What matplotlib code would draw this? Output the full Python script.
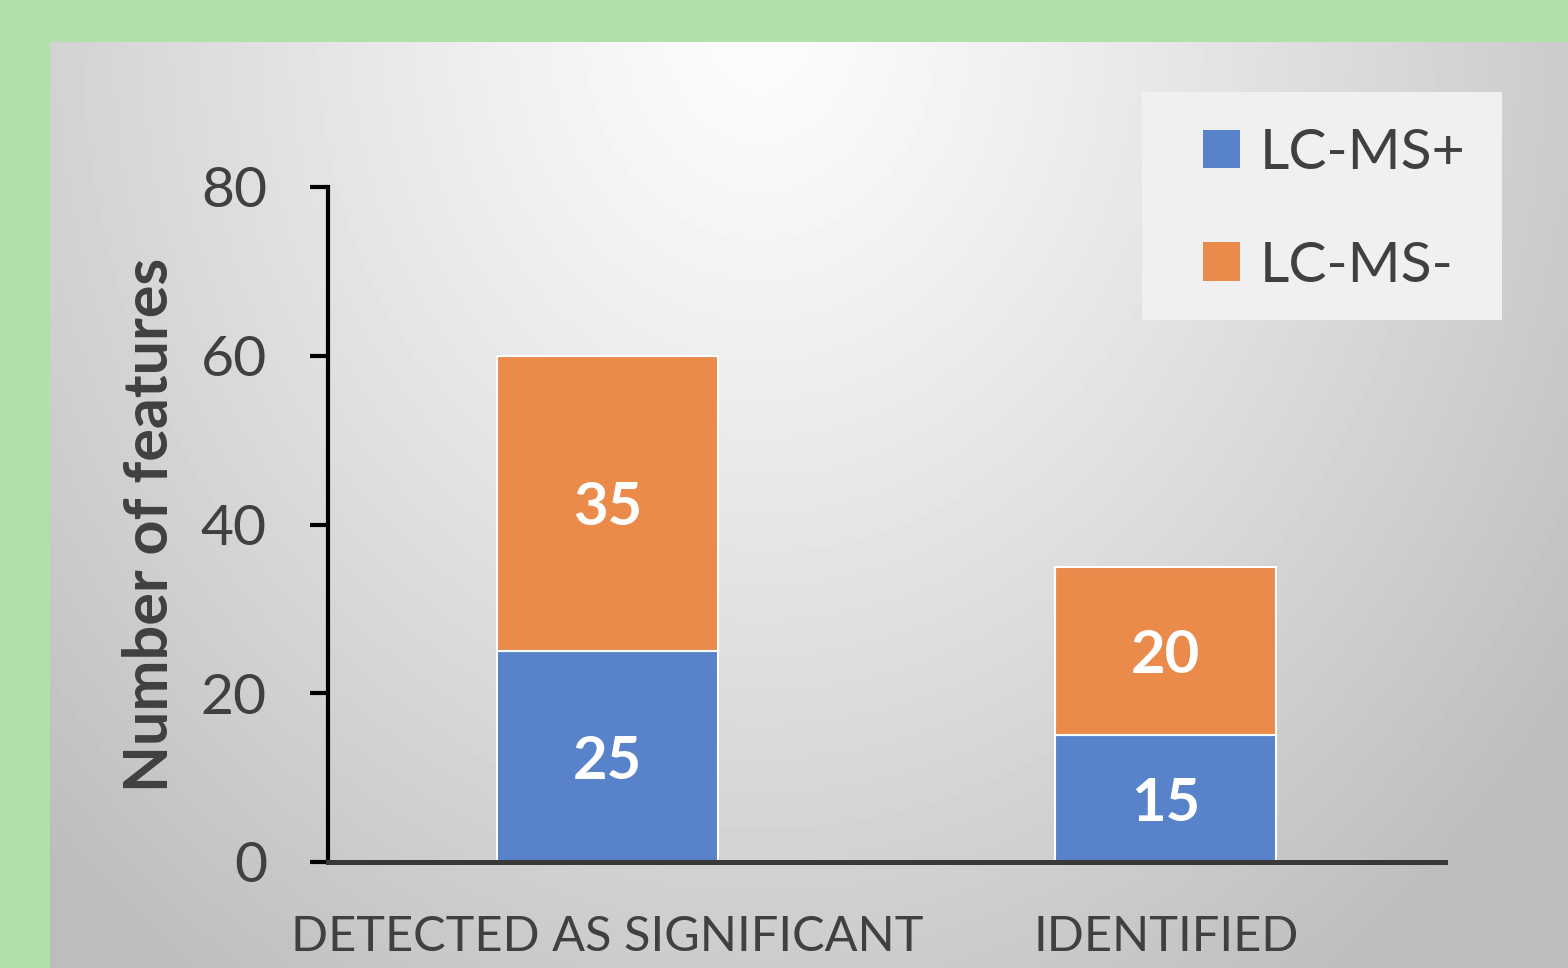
import numpy as np
import matplotlib.pyplot as plt
from matplotlib.patches import Patch, Rectangle

categories = ['DETECTED AS SIGNIFICANT', 'IDENTIFIED']
lcms_pos = [25, 15]
lcms_neg = [35, 20]
series_names = ['LC-MS+', 'LC-MS-']
colors = ['#5882c9', '#eb8b4b']
yticks = [0, 20, 40, 60, 80]

plt.rcParams['font.family'] = ['Lato', 'DejaVu Sans']

W, H = 1568, 968
fig = plt.figure(figsize=(W / 100, H / 100), dpi=100)
fig.patch.set_facecolor('#b0e1a9')

# gray radial backdrop behind the chart
bg = fig.add_axes([50 / W, 0, 1 - 50 / W, 1 - 42 / H])
bg.set_zorder(-1)
xx, yy = np.meshgrid(np.linspace(50, W, 300), np.linspace(42, H, 200))
r = np.sqrt(((xx - 760) / 850) ** 2 + ((yy - 30) / 1000) ** 2)
shade = (252 - 52 * r ** 1.2) / 255
bg.imshow(np.clip(shade, 0.74, 1), cmap='gray', vmin=0, vmax=1, aspect='auto',
          extent=[0, 1, 0, 1], interpolation='bilinear')
bg.axis('off')
# legend panel
bg.add_patch(Rectangle((1142 / W, 1 - 320 / H), 360 / W, 228 / H,
                       transform=fig.transFigure, facecolor='#f0f0f0',
                       edgecolor='none', clip_on=False))

ax = fig.add_axes([328 / W, 1 - 862 / H, (1445 - 328) / W, (862 - 187) / H])
ax.patch.set_alpha(0)

x = np.arange(len(categories))
bw = 0.395
ax.bar(x, lcms_pos, bw, color=colors[0], edgecolor='white', linewidth=1.5, zorder=2)
ax.bar(x, lcms_neg, bw, bottom=lcms_pos, color=colors[1], edgecolor='white',
       linewidth=1.5, zorder=2)

for i in range(len(categories)):
    ax.text(x[i], lcms_pos[i] / 2, str(lcms_pos[i]), ha='center', va='center_baseline',
            color='white', fontsize=43, fontweight='bold')
    ax.text(x[i], lcms_pos[i] + lcms_neg[i] / 2, str(lcms_neg[i]), ha='center',
            va='center_baseline', color='white', fontsize=43, fontweight='bold')

ax.set_xlim(-0.5, 1.5)
ax.set_ylim(0, 80)
ax.set_yticks(yticks)
ax.set_xticks(x)
ax.set_xticklabels(categories)

for s in ['top', 'right']:
    ax.spines[s].set_visible(False)
ax.spines['left'].set_linewidth(3)
ax.spines['left'].set_color('black')
ax.spines['bottom'].set_linewidth(3.6)
ax.spines['bottom'].set_color('#383838')
ax.spines['bottom'].set_zorder(3)

ax.tick_params(axis='y', length=13, width=3, pad=31, labelsize=41, labelcolor='#404040')
ax.tick_params(axis='x', length=0, pad=38, labelsize=35, labelcolor='#404040')

fig.text(150 / W, 1 - 525 / H, 'Number of features', rotation=90, ha='center',
         va='center', fontsize=44, fontweight='bold', color='#404040')

handles = [Patch(facecolor=c, edgecolor='none') for c in colors]
leg = ax.legend(handles, series_names, loc='upper left',
                bbox_to_anchor=(1203 / W, 1 - 128 / H), bbox_transform=fig.transFigure,
                borderaxespad=0, borderpad=0, fontsize=41, frameon=False,
                handlelength=0.65, handleheight=0.65, handletextpad=0.35,
                labelspacing=1.08)
for t in leg.get_texts():
    t.set_color('#404040')

fig.savefig('out.png', dpi=100, facecolor=fig.get_facecolor())
